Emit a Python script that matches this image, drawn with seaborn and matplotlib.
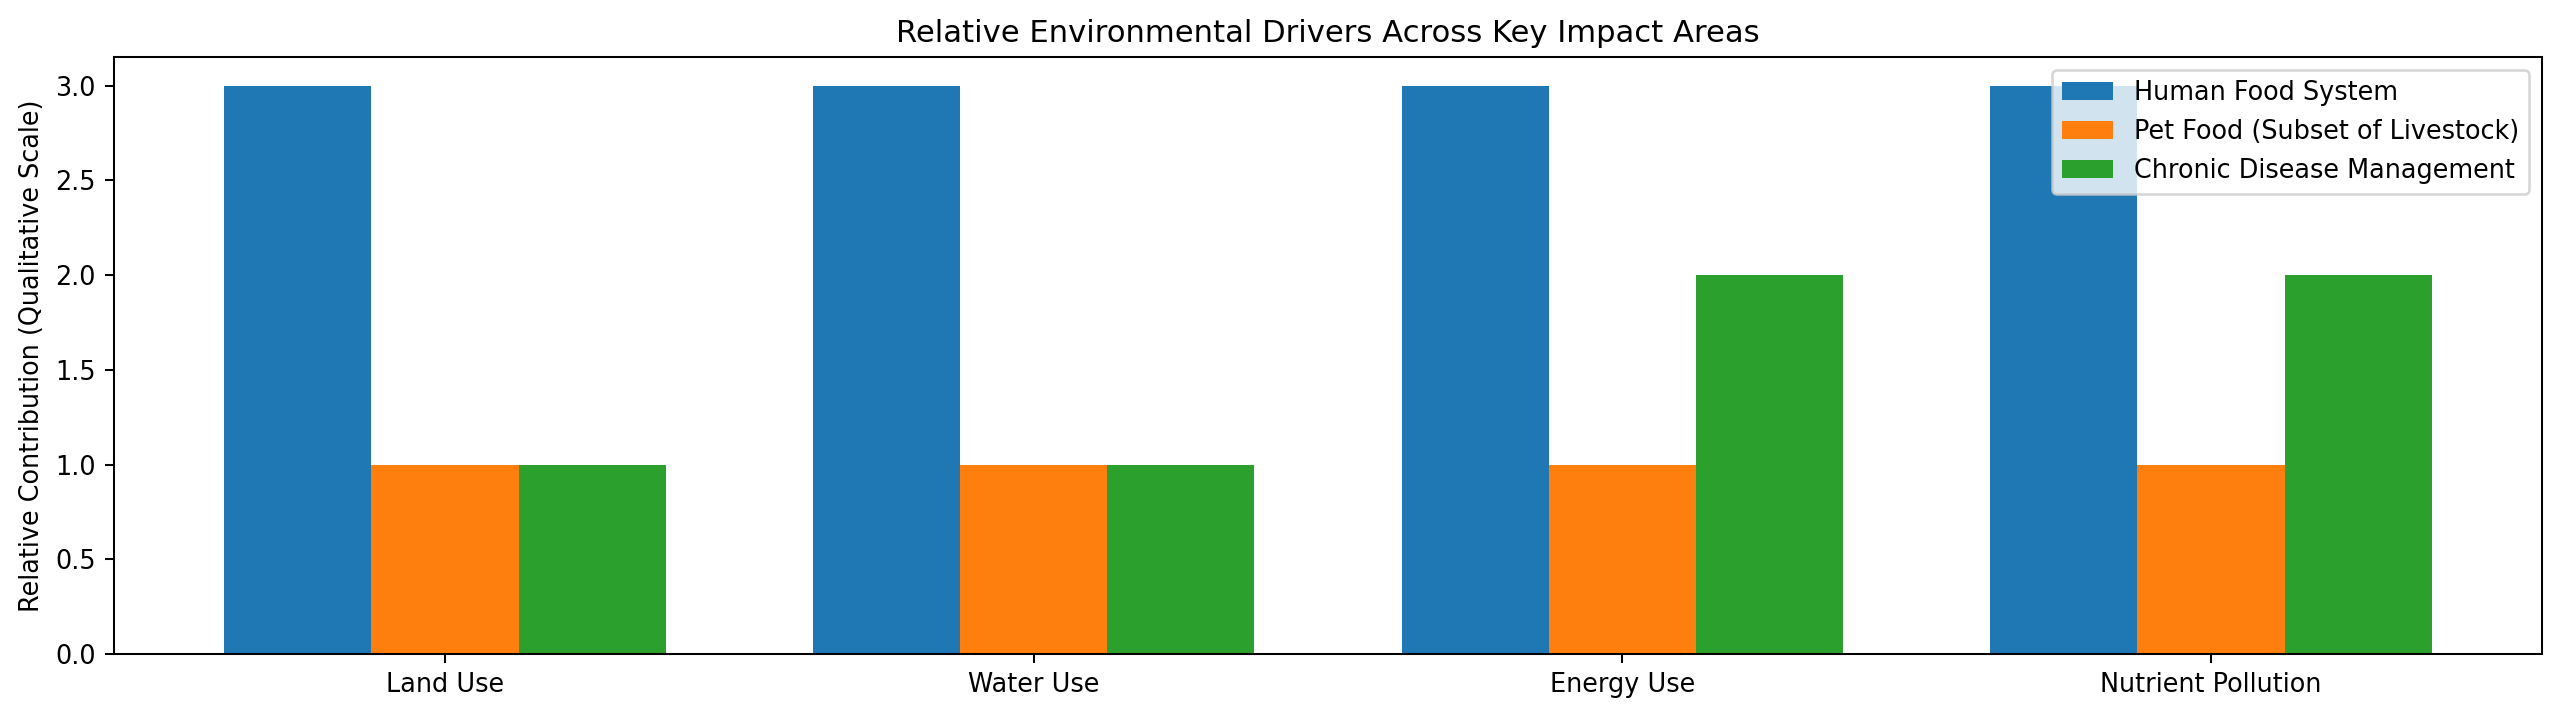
import pandas as pd
import seaborn as sns
import matplotlib
matplotlib.use("Agg")
import matplotlib.pyplot as plt

# impact areas and the qualitative scores for each driver
areas = ["Land Use", "Water Use", "Energy Use", "Nutrient Pollution"]
drivers = ["Human Food System", "Pet Food (Subset of Livestock)", "Chronic Disease Management"]
human_food = [3, 3, 3, 3]
pet_food = [1, 1, 1, 1]
chronic_disease = [1, 1, 2, 2]

rows = []
for name, vals in zip(drivers, [human_food, pet_food, chronic_disease]):
    for a, v in zip(areas, vals):
        rows.append({"area": a, "driver": name, "value": v})
df = pd.DataFrame(rows)

DPI = 184
fig, ax = plt.subplots(figsize=(2560 / DPI, 716 / DPI))
sns.barplot(data=df, x="area", y="value", hue="driver", order=areas, hue_order=drivers,
            palette=sns.color_palette("tab10")[:3], saturation=1, width=0.75,
            linewidth=0, ax=ax)
ax.set_xlim(-0.5625, 3.5625)
ax.set_ylim(0, 3.15)
ax.set_xlabel("")
ax.set_ylabel("Relative Contribution (Qualitative Scale)")
ax.set_title("Relative Environmental Drivers Across Key Impact Areas")
ax.legend(loc="upper right", title=None)

fig.subplots_adjust(left=0.0445, right=0.993, top=0.920, bottom=0.0866)
plt.savefig("out.png", dpi=DPI)
